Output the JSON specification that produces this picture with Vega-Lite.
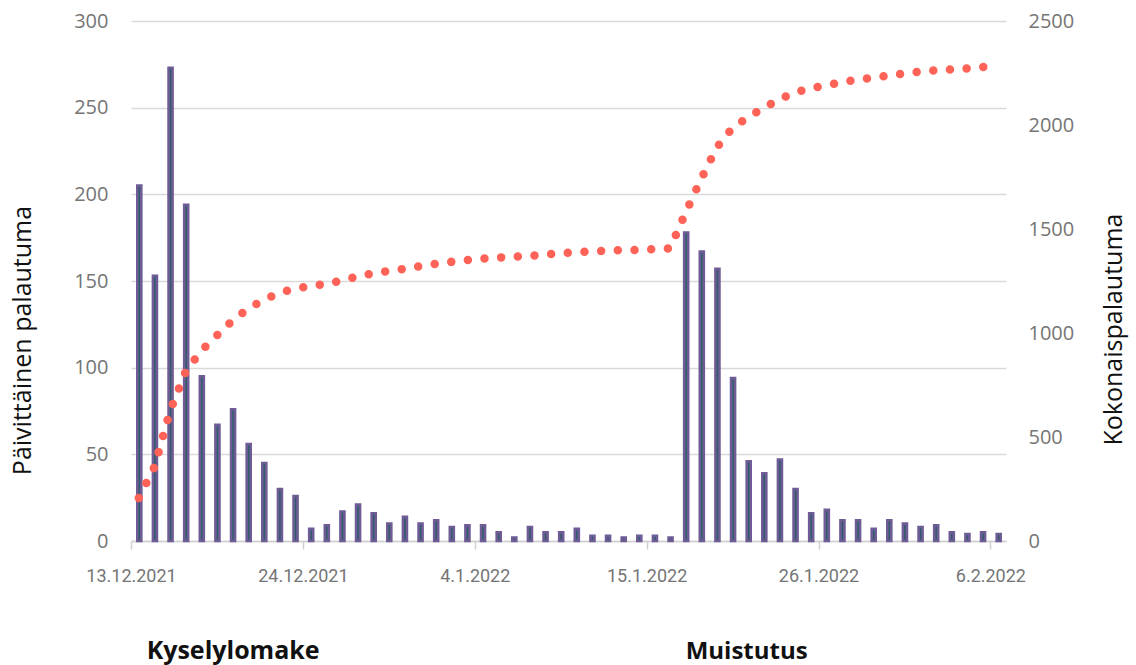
{
  "$schema": "https://vega.github.io/schema/vega-lite/v6.json",
  "width": 875,
  "height": 520,
  "autosize": {"type": "none"},
  "padding": {"left": 131, "top": 21, "right": 130, "bottom": 124},
  "background": "white",
  "config": {"view": {"stroke": null}, "font": "Open Sans"},
  "data": {"values": [
    {"date": "2021/12/13", "daily": 205, "cum": 207},
    {"date": "2021/12/14", "daily": 153, "cum": 356},
    {"date": "2021/12/15", "daily": 273, "cum": 625},
    {"date": "2021/12/16", "daily": 194, "cum": 815},
    {"date": "2021/12/17", "daily": 95, "cum": 915},
    {"date": "2021/12/18", "daily": 67, "cum": 988},
    {"date": "2021/12/19", "daily": 76, "cum": 1060},
    {"date": "2021/12/20", "daily": 56, "cum": 1117},
    {"date": "2021/12/21", "daily": 45, "cum": 1160},
    {"date": "2021/12/22", "daily": 30, "cum": 1192},
    {"date": "2021/12/23", "daily": 26, "cum": 1214},
    {"date": "2021/12/24", "daily": 7, "cum": 1225},
    {"date": "2021/12/25", "daily": 9, "cum": 1236},
    {"date": "2021/12/26", "daily": 17, "cum": 1252},
    {"date": "2021/12/27", "daily": 21, "cum": 1272},
    {"date": "2021/12/28", "daily": 16, "cum": 1287},
    {"date": "2021/12/29", "daily": 10, "cum": 1298},
    {"date": "2021/12/30", "daily": 14, "cum": 1309},
    {"date": "2021/12/31", "daily": 10, "cum": 1321},
    {"date": "2022/01/01", "daily": 12, "cum": 1333},
    {"date": "2022/01/02", "daily": 8, "cum": 1342},
    {"date": "2022/01/03", "daily": 9, "cum": 1350},
    {"date": "2022/01/04", "daily": 9, "cum": 1358},
    {"date": "2022/01/05", "daily": 5, "cum": 1363},
    {"date": "2022/01/06", "daily": 2, "cum": 1366},
    {"date": "2022/01/07", "daily": 8, "cum": 1371},
    {"date": "2022/01/08", "daily": 5, "cum": 1377},
    {"date": "2022/01/09", "daily": 5, "cum": 1383},
    {"date": "2022/01/10", "daily": 7, "cum": 1389},
    {"date": "2022/01/11", "daily": 3, "cum": 1393},
    {"date": "2022/01/12", "daily": 3, "cum": 1396},
    {"date": "2022/01/13", "daily": 2, "cum": 1398},
    {"date": "2022/01/14", "daily": 3, "cum": 1400},
    {"date": "2022/01/15", "daily": 3, "cum": 1404},
    {"date": "2022/01/16", "daily": 2, "cum": 1407},
    {"date": "2022/01/17", "daily": 178, "cum": 1580},
    {"date": "2022/01/18", "daily": 167, "cum": 1742},
    {"date": "2022/01/19", "daily": 157, "cum": 1893},
    {"date": "2022/01/20", "daily": 94, "cum": 1987},
    {"date": "2022/01/21", "daily": 46, "cum": 2038},
    {"date": "2022/01/22", "daily": 39, "cum": 2082},
    {"date": "2022/01/23", "daily": 47, "cum": 2124},
    {"date": "2022/01/24", "daily": 30, "cum": 2156},
    {"date": "2022/01/25", "daily": 16, "cum": 2176},
    {"date": "2022/01/26", "daily": 18, "cum": 2191},
    {"date": "2022/01/27", "daily": 12, "cum": 2206},
    {"date": "2022/01/28", "daily": 12, "cum": 2218},
    {"date": "2022/01/29", "daily": 7, "cum": 2228},
    {"date": "2022/01/30", "daily": 12, "cum": 2238},
    {"date": "2022/01/31", "daily": 10, "cum": 2248},
    {"date": "2022/02/01", "daily": 8, "cum": 2256},
    {"date": "2022/02/02", "daily": 9, "cum": 2263},
    {"date": "2022/02/03", "daily": 5, "cum": 2267},
    {"date": "2022/02/04", "daily": 4, "cum": 2272},
    {"date": "2022/02/05", "daily": 5, "cum": 2279},
    {"date": "2022/02/06", "daily": 4, "cum": 2284}
  ]},
  "layer": [
    {
      "mark": {"type": "bar", "fill": "#2b5e66", "stroke": "#6f5c96", "strokeWidth": 2.6, "width": {"band": 0.32}},
      "encoding": {
        "x": {
          "field": "date", "type": "temporal", "timeUnit": "yearmonthdate",
          "scale": {"domain": [{"year": 2021, "month": 12, "date": 13}, {"year": 2022, "month": 2, "date": 7}], "nice": false},
          "axis": {
            "title": null, "grid": false, "format": "%-d.%-m.%Y",
            "values": [{"year": 2021, "month": 12, "date": 13}, {"year": 2021, "month": 12, "date": 24}, {"year": 2022, "month": 1, "date": 4}, {"year": 2022, "month": 1, "date": 15}, {"year": 2022, "month": 1, "date": 26}, {"year": 2022, "month": 2, "date": 6}],
            "domainColor": "#d0d0d0", "domainWidth": 1.5, "tickColor": "#d0d0d0", "tickWidth": 1.5, "tickSize": 8,
            "labelFont": "Roboto", "labelFontSize": 18, "labelColor": "#757575", "labelPadding": 18,
            "labelFlush": false, "labelOverlap": false
          }
        },
        "y": {
          "field": "daily", "type": "quantitative",
          "scale": {"domain": [0, 300], "nice": false},
          "axis": {
            "orient": "left", "values": [0, 50, 100, 150, 200, 250, 300],
            "domain": false, "ticks": false, "grid": true, "gridColor": "#d9d9d9", "gridWidth": 1.5,
            "labelFont": "Open Sans", "labelFontSize": 20, "labelColor": "#757575", "labelPadding": 23,
            "title": "Päivittäinen palautuma", "titleFont": "Open Sans", "titleFontSize": 25, "titleFontWeight": "normal", "titleColor": "#111111",
            "titleAngle": -90, "titleX": -109, "titleY": 319, "titleBaseline": "middle", "titleAlign": "center"
          }
        }
      }
    },
    {
      "mark": {"type": "line", "stroke": "#ff6357", "strokeWidth": 8.5, "strokeCap": "round", "strokeDash": [0, 16.7]},
      "encoding": {
        "x": {"field": "date", "type": "temporal", "timeUnit": "yearmonthdate", "bandPosition": 0.5, "axis": {"title": null}},
        "y": {
          "field": "cum", "type": "quantitative",
          "scale": {"domain": [0, 2500], "nice": false},
          "axis": {
            "orient": "right", "values": [0, 500, 1000, 1500, 2000, 2500], "format": "d",
            "domain": false, "ticks": false, "grid": false,
            "labelFont": "Open Sans", "labelFontSize": 20, "labelColor": "#757575", "labelPadding": 22,
            "title": "Kokonaispalautuma", "titleFont": "Open Sans", "titleFontSize": 25, "titleFontWeight": "normal", "titleColor": "#111111",
            "titleAngle": -90, "titleX": 107, "titleY": 308, "titleBaseline": "middle", "titleAlign": "center"
          }
        }
      }
    },
    {
      "data": {"values": [{"date": "2021/12/14", "label": "Kyselylomake"}]},
      "mark": {"type": "text", "y": {"expr": "height"}, "dy": 118, "align": "left", "baseline": "alphabetic", "font": "Open Sans", "fontSize": 25, "fontWeight": "bold", "color": "#111111"},
      "encoding": {
        "x": {"field": "date", "type": "temporal", "timeUnit": "yearmonthdate", "bandPosition": 0, "axis": {"title": null}},
        "text": {"field": "label"}
      }
    },
    {
      "data": {"values": [{"date": "2022/01/17", "label": "Muistutus"}]},
      "mark": {"type": "text", "y": {"expr": "height"}, "dy": 118, "align": "left", "baseline": "alphabetic", "font": "Open Sans", "fontSize": 24, "fontWeight": "bold", "color": "#111111"},
      "encoding": {
        "x": {"field": "date", "type": "temporal", "timeUnit": "yearmonthdate", "bandPosition": 0.5, "axis": {"title": null}},
        "text": {"field": "label"}
      }
    }
  ],
  "resolve": {"scale": {"y": "independent"}}
}
